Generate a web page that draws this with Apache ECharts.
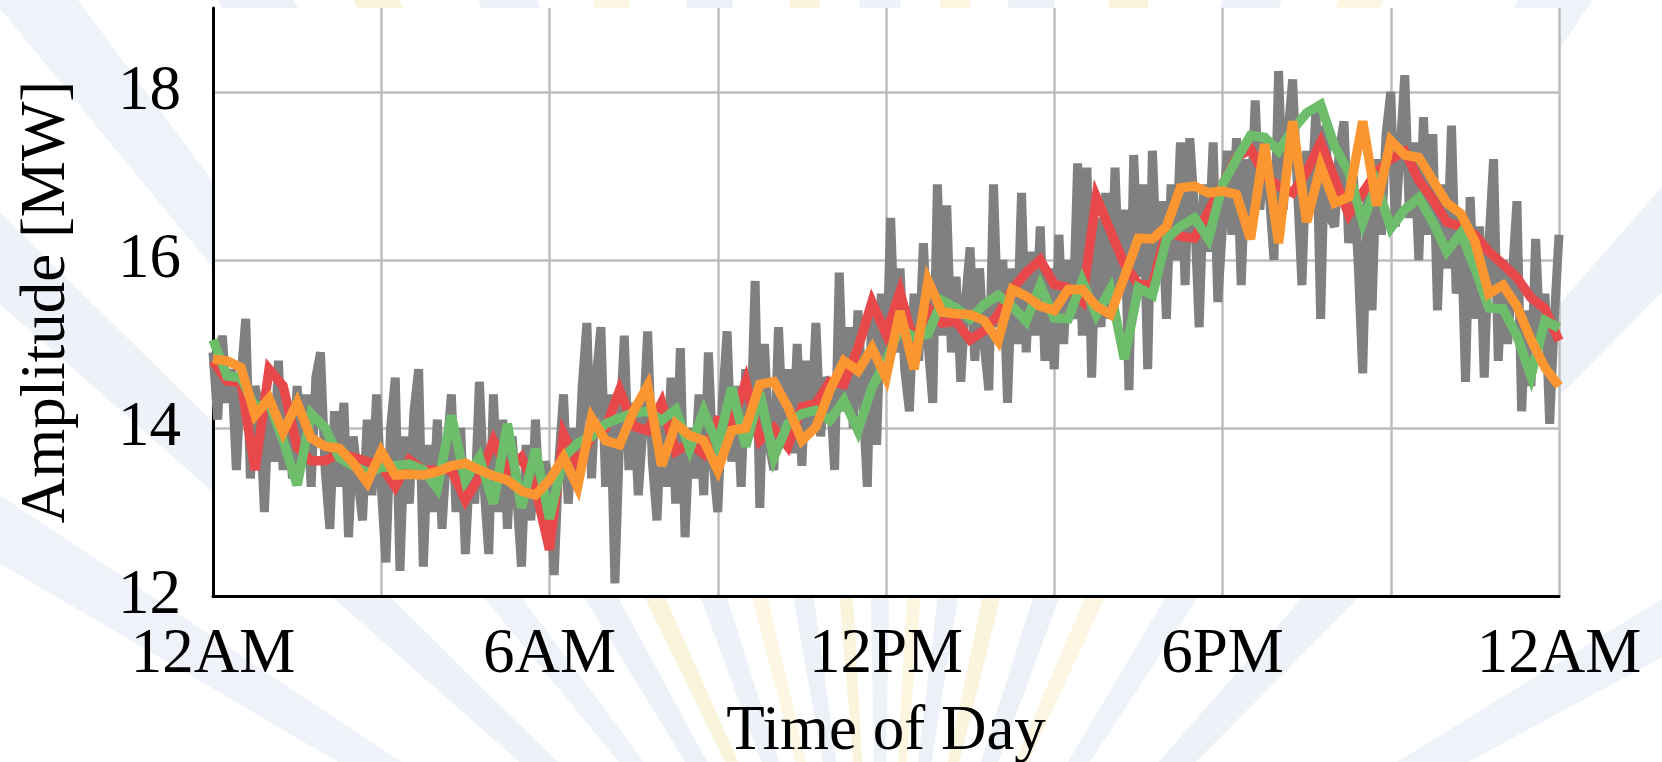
<!DOCTYPE html>
<html>
<head>
<meta charset="utf-8">
<script src="https://cdn.jsdelivr.net/npm/echarts@6/dist/echarts.min.js"></script>
<style>
  html, body { margin: 0; padding: 0; background: #ffffff; }
  #chart { width: 1662px; height: 762px; }
</style>
</head>
<body>
<div id="chart"></div>
<script>
// ---- Data ----
const grayStepMinutes = 5;     // measured load, every 5 minutes
const forecastStepMinutes = 15; // coloured curves, every 15 minutes

const grayValues = [
  // 0h
  14.9, 14.1, 15.1, 14.3, 14.7, 13.5, 14.6, 15.3, 13.4, 14.5, 14.2, 13.0,
  // 1h
  14.4, 13.6, 14.8, 13.5, 14.3, 13.4, 14.5, 13.7, 14.4, 13.3, 14.6, 14.9,
  // 2h
  13.5, 12.8, 14.2, 13.3, 14.3, 12.7, 13.9, 13.4, 12.9, 14.1, 13.2, 14.4,
  // 3h
  13.3, 12.4, 14.0, 14.6, 12.3, 13.9, 13.1, 14.2, 14.7, 12.35, 13.8, 13.0,
  // 4h
  14.1, 12.8, 13.7, 14.4, 13.0, 14.0, 12.5, 13.6, 13.1, 14.55, 13.3, 12.5,
  // 5h
  14.4, 13.0, 14.1, 12.8, 13.9, 13.2, 12.35, 13.8, 12.9, 14.1, 13.0, 13.6,
  // 6h
  13.4, 12.25, 13.6, 14.4, 13.1, 14.0, 13.3, 14.5, 15.25, 13.4, 14.6, 15.2,
  // 7h
  13.3, 14.4, 12.15, 13.9, 15.1, 13.5, 14.3, 13.2, 14.0, 15.15, 13.6, 12.9,
  // 8h
  14.2, 13.3, 14.6, 13.1, 14.95, 12.7, 14.0, 13.4, 14.4, 13.2, 14.9, 13.6,
  // 9h
  13.0, 14.3, 15.15, 13.6, 14.5, 13.3, 14.7, 13.9, 15.75, 13.05, 15.0, 13.8,
  // 10h
  13.5, 15.2, 13.9, 14.7, 13.7, 15.0, 13.55, 14.8, 14.0, 15.25, 13.9, 14.6,
  // 11h
  14.5, 13.5, 15.85, 14.2, 15.2, 14.0, 15.4, 14.4, 13.3, 15.5, 13.8, 15.6,
  // 12h
  14.6, 16.5, 14.9, 15.9, 14.7, 14.2, 15.6, 14.8, 16.2, 15.0, 14.3, 16.9,
  // 13h
  15.1, 16.65, 14.9, 15.8, 14.55, 15.5, 16.15, 14.8, 15.9, 15.0, 14.45, 16.9,
  // 14h
  15.2, 16.0, 14.3, 15.9, 15.0, 16.8, 14.9, 16.1, 15.1, 16.4, 14.8, 15.9,
  // 15h
  14.7, 16.3, 15.0, 16.0, 15.3, 17.15, 15.1, 17.1, 14.6, 16.5, 15.2, 16.8,
  // 16h
  15.3, 17.1, 15.6, 16.6, 14.45, 17.25, 15.8, 16.9, 14.7, 17.3, 15.9, 16.7,
  // 17h
  15.3, 16.9, 16.0, 17.4, 15.7, 17.45, 16.6, 15.2, 16.9, 16.1, 17.4, 15.5,
  // 18h
  16.4, 17.3, 16.3, 17.45, 15.7, 17.2, 16.5, 17.9, 16.6, 17.4, 16.8, 16.0,
  // 19h
  18.25, 16.6, 17.5, 18.15, 16.9, 15.7, 17.3, 16.7, 17.8, 15.3, 17.6, 16.5,
  // 20h
  16.4, 17.3, 17.65, 16.2, 17.0, 16.0, 14.65, 16.8, 15.4, 17.2, 16.3, 17.5,
  // 21h
  18.0, 16.4, 17.3, 18.2, 16.5, 17.4, 16.0, 17.7, 16.3, 17.5, 15.4, 16.9,
  // 22h
  15.9, 17.6, 15.6, 16.5, 14.55, 16.75, 15.3, 16.4, 14.6, 16.2, 17.2, 14.8,
  // 23h
  16.0, 15.0, 15.8, 16.7, 14.2, 15.4, 14.5, 16.25, 15.0, 15.6, 14.05, 15.3,
  // 24h
  16.3
];

const redValues = [
  14.80, 14.56, 14.54, 13.50, 14.70, 14.50, 13.77, 13.61,
  13.61, 13.70, 13.65, 13.60, 13.55, 13.30, 13.62, 13.50,
  13.50, 13.50, 13.14, 13.42, 13.85, 13.49, 13.65, 13.28,
  12.55, 13.93, 13.57, 13.90, 14.00, 14.45, 14.02, 13.97,
  14.30, 13.72, 13.82, 13.69, 14.09, 14.05, 14.55, 13.85,
  14.00, 13.78, 14.25, 14.29, 14.55, 14.52, 14.95, 15.50,
  15.12, 15.62, 15.00, 15.43, 15.25, 15.27, 15.05, 15.16,
  15.35, 15.65, 15.85, 16.00, 15.71, 15.67, 15.51, 16.75,
  16.35, 15.95, 15.71, 15.70, 16.35, 16.28, 16.26, 16.58,
  16.90, 17.22, 17.32, 17.01, 16.88, 16.80, 17.05, 17.40,
  16.97, 16.54, 16.80, 17.05, 17.20, 17.29, 16.95, 16.72,
  16.45, 16.40, 16.30, 16.10, 15.95, 15.79, 15.55, 15.42,
  15.04
];

const greenValues = [
  15.05, 14.62, 14.60, 14.25, 14.30, 13.85, 13.32, 14.17,
  14.00, 13.65, 13.55, 13.47, 13.53, 13.55, 13.57, 13.50,
  13.28, 14.15, 13.38, 13.65, 13.10, 14.05, 13.05, 13.75,
  12.92, 13.65, 13.82, 13.90, 14.05, 14.12, 14.18, 14.20,
  14.09, 14.22, 13.75, 14.20, 13.78, 14.48, 13.78, 14.42,
  13.65, 14.05, 14.17, 14.21, 14.09, 14.33, 13.97, 14.48,
  14.80, 15.19, 15.08, 15.12, 15.52, 15.43, 15.30, 15.47,
  15.58, 15.45, 15.27, 15.70, 15.31, 15.30, 15.75, 15.35,
  15.65, 14.82, 15.67, 15.58, 16.25, 16.40, 16.50, 16.25,
  16.90, 17.20, 17.48, 17.46, 17.30, 17.55, 17.75, 17.85,
  17.35, 17.05, 16.45, 16.90, 16.38, 16.60, 16.74, 16.45,
  16.10, 16.32, 15.90, 15.43, 15.42, 15.10, 14.62, 15.28,
  15.19
];

const orangeValues = [
  14.82, 14.80, 14.72, 14.15, 14.35, 13.95, 14.30, 13.88,
  13.78, 13.76, 13.58, 13.35, 13.72, 13.44, 13.45, 13.44,
  13.48, 13.55, 13.58, 13.50, 13.43, 13.38, 13.25, 13.20,
  13.38, 13.65, 13.30, 14.12, 13.85, 13.80, 14.20, 14.50,
  13.55, 14.05, 13.91, 13.85, 13.50, 13.97, 14.00, 14.52,
  14.55, 14.25, 13.85, 14.01, 14.45, 14.80, 14.68, 14.95,
  14.60, 15.39, 14.70, 15.75, 15.38, 15.36, 15.35, 15.28,
  15.04, 15.65, 15.57, 15.45, 15.40, 15.65, 15.65, 15.45,
  15.35, 15.80, 16.26, 16.25, 16.40, 16.86, 16.88, 16.80,
  16.82, 16.78, 16.25, 17.38, 16.20, 17.65, 16.45, 17.12,
  16.68, 16.75, 17.65, 16.65, 17.42, 17.25, 17.22, 16.95,
  16.68, 16.55, 16.22, 15.60, 15.70, 15.45, 15.05, 14.72,
  14.50
];

const xTickLabels = { 0: '12AM', 6: '6AM', 12: '12PM', 18: '6PM', 24: '12AM' };
const yTickValues = [12, 14, 16, 18];

// ---- Build series data ----
function toPairs(values, stepMinutes) {
  return values.map((v, i) => [i * stepMinutes / 60, v]);
}

// ---- Decorative watermark rays (background only, very faint) ----
const rayCenter = [880, 1080];
const rays = [
  [30, 1.6, '#EEF2F9'], [47, 1.8, '#EDF2F9'], [58, 1.4, '#EEF2F9'],
  [66, 1.0, '#FCF6E2'], [71, 1.4, '#ECF1F8'], [77, 1.0, '#FBF4DC'],
  [82, 1.2, '#ECF1F8'], [86, 0.8, '#FCF5DF'], [90, 1.1, '#EDF2F9'],
  [94, 0.8, '#FBF4DC'], [99, 1.2, '#ECF1F8'], [104, 0.9, '#FCF6E2'],
  [109, 1.4, '#EDF2F9'], [115, 1.0, '#FBF4DC'], [120, 1.5, '#ECF1F8'],
  [128, 1.4, '#EEF2F9'], [137, 1.6, '#EDF2F9'], [148, 1.6, '#EFF3F9']
];
const rayGraphics = rays.map(([ang, w, col]) => {
  const L = 2600;
  const a1 = (ang - w) * Math.PI / 180, a2 = (ang + w) * Math.PI / 180;
  return {
    type: 'polygon', z: -10, silent: true,
    shape: { points: [
      rayCenter,
      [rayCenter[0] + L * Math.cos(a1), rayCenter[1] - L * Math.sin(a1)],
      [rayCenter[0] + L * Math.cos(a2), rayCenter[1] - L * Math.sin(a2)]
    ] },
    style: { fill: col }
  };
});

const font = '"Liberation Serif", "DejaVu Serif", serif';
const chart = echarts.init(document.getElementById('chart'), null, { renderer: 'canvas' });

chart.setOption({
  animation: false,
  backgroundColor: '#ffffff',
  graphic: { elements: rayGraphics },
  grid: {
    left: 213, right: 103, top: 8, bottom: 166,
    outerBoundsMode: 'none', containLabel: false,
    show: true, backgroundColor: '#ffffff', borderWidth: 0
  },
  xAxis: {
    type: 'value', min: 0, max: 24, interval: 3,
    name: 'Time of Day', nameLocation: 'middle', nameGap: 105,
    nameTextStyle: { fontFamily: font, fontSize: 63, color: '#000' },
    axisLine: { show: true, onZero: false, lineStyle: { color: '#000', width: 3 } },
    axisTick: { show: false },
    axisLabel: {
      margin: 28, fontFamily: font, fontSize: 63, color: '#000',
      formatter: v => (xTickLabels[v] !== undefined ? xTickLabels[v] : '')
    },
    splitLine: { show: true, lineStyle: { color: '#BDBDBD', width: 2.5 } }
  },
  yAxis: {
    type: 'value', min: 12, max: 19, interval: 2,
    name: 'Amplitude [MW]', nameLocation: 'middle', nameGap: 134, nameRotate: 90,
    nameTextStyle: { fontFamily: font, fontSize: 63, color: '#000' },
    axisLine: { show: true, onZero: false, lineStyle: { color: '#000', width: 3 } },
    axisTick: { show: false },
    axisLabel: {
      margin: 32, fontFamily: font, fontSize: 63, color: '#000',
      showMaxLabel: false,
      formatter: v => (yTickValues.indexOf(v) >= 0 ? String(v) : '')
    },
    splitLine: { show: true, showMaxLine: false, lineStyle: { color: '#BDBDBD', width: 2.5 } }
  },
  series: [
    {
      name: 'Measured', type: 'line', data: toPairs(grayValues, grayStepMinutes),
      showSymbol: false, symbol: 'none', z: 2,
      lineStyle: { color: '#808080', width: 9, join: 'bevel' }
    },
    {
      name: 'Red', type: 'line', data: toPairs(redValues, forecastStepMinutes),
      showSymbol: false, symbol: 'none', z: 3,
      lineStyle: { color: '#E8484A', width: 9.5, join: 'miter', miterLimit: 4 }
    },
    {
      name: 'Green', type: 'line', data: toPairs(greenValues, forecastStepMinutes),
      showSymbol: false, symbol: 'none', z: 4,
      lineStyle: { color: '#6DBD6B', width: 9.5, join: 'miter', miterLimit: 4 }
    },
    {
      name: 'Orange', type: 'line', data: toPairs(orangeValues, forecastStepMinutes),
      showSymbol: false, symbol: 'none', z: 5,
      lineStyle: { color: '#FB9631', width: 9.5, join: 'miter', miterLimit: 4 }
    }
  ]
});
</script>
</body>
</html>
